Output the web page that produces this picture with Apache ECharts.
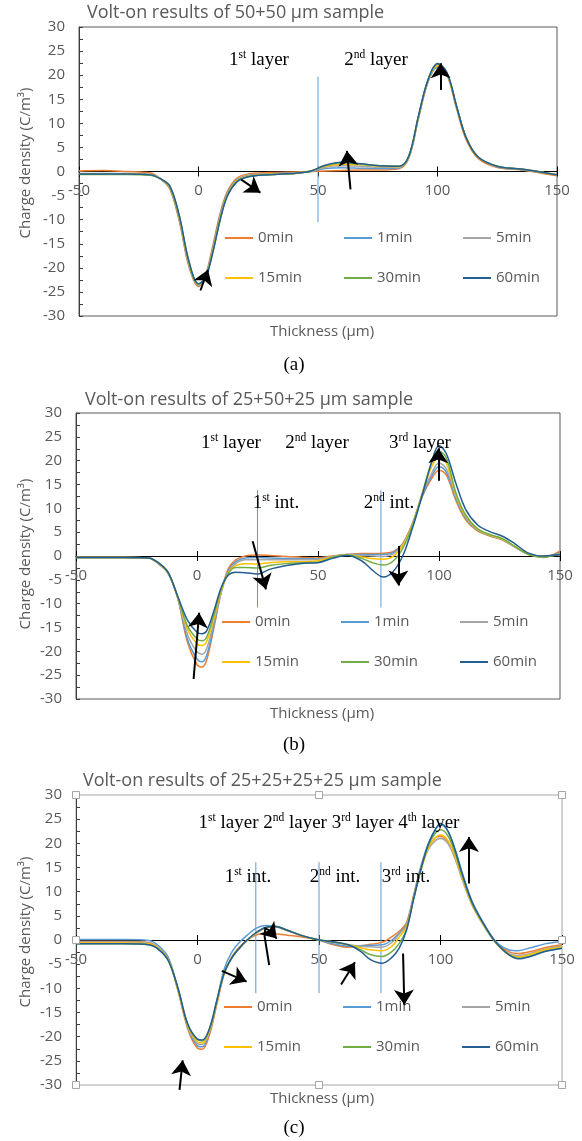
<!DOCTYPE html>
<html>
<head>
<meta charset="utf-8">
<script src="https://cdn.jsdelivr.net/npm/echarts@6/dist/echarts.min.js"></script>
<style>
  html, body { margin: 0; padding: 0; background: #ffffff; }
  #chart { width: 582px; height: 1141px; }
</style>
</head>
<body>
<div id="chart"></div>
<script>
// ---- series definitions ----
const seriesNames = ['0min', '1min', '5min', '15min', '30min', '60min'];
const seriesColors = ['#ED7D31', '#5B9BD5', '#A5A5A5', '#FFC000', '#70AD47', '#255E91'];
const xTickValues = [-50, 0, 50, 100, 150];

// ---- (a) 50+50 µm sample ----
const thicknessA = [-50,-40,-30,-20,-16,-12,-8,-4,0,3,6,9,12,16,20,25,32,40,47,53,60,68,76,84,88,92,96,100,104,108,112,117,125,135,150];
const a0min  = [0.1,0.2,0.0,-0.3, -1.5,-3.6,-10.4,-19.8, -23.9,-21.4,-15.4,-8.8, -4.2,-1.4,-0.6,-0.3, -0.2,-0.1,0.0,0.1, 0.2,0.3,0.3,0.6, 2.8,11.0,18.6,21.8, 20.0,13.0,6.6,2.7, 0.8,0.3,-0.9];
const a1min  = [-0.4,-0.4,-0.4,-0.6, -1.5,-3.4,-10.0,-19.4, -23.7,-21.7,-15.9,-9.3, -4.6,-1.7,-0.9,-0.6, -0.4,-0.3,0.0,0.6, 0.8,0.7,0.6,0.8, 2.9,11.0,18.6,21.6, 20.2,13.4,7.0,3.0, 1.0,0.4,-0.6];
const a5min  = [-0.5,-0.5,-0.5,-0.7, -1.5,-3.3,-9.8,-19.2, -23.6,-21.8,-16.2,-9.6, -4.8,-1.9,-1.0,-0.7, -0.5,-0.4,0.0,0.9, 1.2,1.1,0.9,0.9, 3.0,11.2,18.8,21.8, 20.3,13.4,7.0,3.0, 1.0,0.4,-0.6];
const a15min = [-0.5,-0.5,-0.5,-0.7, -1.5,-3.2,-9.6,-19.0, -23.5,-21.9,-16.5,-9.9, -5.0,-2.0,-1.1,-0.7, -0.5,-0.4,0.1,1.1, 1.5,1.4,1.1,1.0, 3.1,11.3,18.9,22.0, 20.4,13.5,7.1,3.0, 1.1,0.5,-0.7];
const a30min = [-0.6,-0.6,-0.6,-0.8, -1.5,-3.1,-9.4,-18.8, -23.4,-22.0,-16.7,-10.1, -5.1,-2.1,-1.2,-0.8, -0.6,-0.4,0.1,1.2, 1.8,1.5,1.2,1.1, 3.2,11.4,19.0,22.3, 20.5,13.5,7.0,3.0, 1.1,0.5,-0.7];
const a60min = [-0.5,-0.5,-0.5,-0.7, -1.5,-3.0,-9.2,-18.6, -23.3,-22.0,-16.8,-10.2, -5.2,-2.2,-1.2,-0.8, -0.6,-0.4,0.1,1.3, 1.9,1.6,1.2,1.1, 3.2,11.5,19.0,22.4, 20.5,13.5,7.0,3.0, 1.1,0.5,-0.7];
const interfacesA = [50];
const interfaceSpanA = [-10.5, 19.7];
const arrowsA = [
  [[17.9, -1.7], [25.9, -4.4]],
  [[63.6, -3.7], [62.1, 4.3]],
  [[101.3, 16.9], [101.3, 22.5]],
  [[0.8, -24.7], [4.0, -20.4]]
];

// ---- (b) 25+50+25 µm sample ----
const thicknessB = [-50,-40,-30,-20,-16,-12,-8,-4,0,2,4,7,10,13,16,20,25,30,37,44,50,56,62,68,73,77,81,85,89,93,97,100,103,107,111,116,121,126,131,137,143,150];
const b0min  = [-0.3,-0.3,-0.3,-0.4, -1.6,-3.6,-8.8,-18.0, -22.8,-23.3,-21.8,-15.0, -7.5,-2.6,-0.8,0.0, 0.2,0.1,-0.1,-0.3, -0.4,0.0,0.3,0.5, 0.5,0.6,0.9,2.6, 6.8,12.4,16.3,18.0, 17.0,11.6,7.6,5.2, 4.2,3.4,2.0,0.3, -0.3,1.0];
const b1min  = [-0.3,-0.3,-0.3,-0.4, -1.6,-3.6,-8.7,-17.4, -21.6,-22.2,-20.8,-14.5, -7.6,-3.0,-1.2,-0.4, -0.3,-0.4,-0.5,-0.6, -0.6,-0.1,0.3,0.3, 0.3,0.3,0.7,2.5, 6.7,12.5,16.8,18.8, 17.6,12.0,7.9,5.4, 4.3,3.5,2.0,0.4, -0.2,0.7];
const b5min  = [-0.3,-0.3,-0.3,-0.4, -1.5,-3.5,-8.6,-16.4, -20.1,-20.6,-19.4,-13.8, -7.6,-3.3,-1.6,-0.8, -0.8,-0.8,-0.8,-0.8, -0.7,-0.1,0.3,0.1, 0.0,-0.1,0.4,2.4, 6.6,12.8,17.4,19.5, 18.3,12.4,8.1,5.5, 4.3,3.5,2.0,0.4, -0.2,0.5];
const b15min = [-0.3,-0.3,-0.3,-0.4, -1.5,-3.5,-8.6,-15.3, -18.4,-18.8,-17.9,-13.0, -7.3,-3.5,-2.0,-1.6, -1.7,-1.4,-1.2,-1.2, -1.0,-0.2,0.2,-0.2, -0.6,-0.7,-0.1,2.2, 6.5,13.0,18.8,20.9, 19.5,12.8,8.4,5.6, 4.4,3.6,2.1,0.4, -0.1,0.4];
const b30min = [-0.3,-0.3,-0.3,-0.4, -1.4,-3.4,-8.5,-14.6, -17.4,-17.8,-17.0,-12.3, -7.0,-3.6,-2.4,-2.4, -2.5,-2.0,-1.6,-1.4, -1.3,-0.3,0.2,-0.5, -1.5,-1.9,-1.1,1.6, 6.3,13.0,19.6,22.0, 20.6,13.2,8.6,5.7, 4.5,3.7,2.1,0.3, -0.2,0.3];
const b60min = [-0.3,-0.3,-0.3,-0.4, -1.4,-3.4,-8.4,-13.4, -16.0,-16.3,-15.7,-11.5, -6.6,-4.0,-3.4,-3.5, -3.8,-2.8,-2.0,-1.5, -1.4,-0.5,0.1,-1.0, -3.2,-4.4,-3.3,0.0, 5.8,12.6,19.8,23.2, 21.5,15.2,9.8,6.5, 5.1,4.2,2.7,0.6, 0.0,0.3];
const interfacesB = [25, 76];
const interfaceSpanB = [-10.8, 13.8];
const arrowsB = [
  [[23.0, 3.1], [28.5, -7.0]],
  [[83.2, 2.1], [83.2, -6.2]],
  [[99.7, 15.8], [99.7, 22.6]],
  [[-1.4, -25.8], [0.9, -11.9]]
];

// ---- (c) 25+25+25+25 µm sample ----
const thicknessC = [-50,-40,-30,-20,-16,-12,-8,-4,0,2,5,8,11,14,17,20,24,28,32,37,43,50,56,62,67,71,76,80,83,86,89,92,95,98,100,103,106,109,113,117,121,124,128,132,137,143,150];
const c0min  = [-0.3,-0.3,-0.3,-0.5, -1.6,-4.0,-10.6,-18.4, -22.4,-22.6,-19.5,-13.2, -7.0,-3.6,-1.6,-0.2, 1.0,1.4,1.3,1.0, 0.6,0.0,-1.0,-1.5, -1.2,-0.9,-0.5,0.7, 1.8,3.6,9.4,15.2, 19.2,21.2,21.4,20.3, 17.0,12.6,7.4,3.8, 0.8,-1.0,-2.4,-2.8, -2.4,-1.6,-1.0];
const c1min  = [0.1,0.1,0.1,-0.1, -1.2,-3.6,-10.3,-18.0, -21.9,-22.1,-19.0,-12.5, -6.0,-2.6,-0.6,0.8, 2.4,3.0,2.9,2.0, 0.9,0.0,-0.8,-1.3, -1.2,-1.1,-1.0,0.0, 1.4,3.2,9.2,15.3, 20.0,23.0,23.8,22.6, 18.8,13.8,8.0,4.1, 0.8,-0.9,-2.0,-2.2, -1.6,-0.8,-0.3];
const c5min  = [-0.4,-0.4,-0.4,-0.6, -1.6,-4.0,-10.4,-17.9, -21.4,-21.6,-18.9,-12.8, -7.0,-3.8,-1.9,-0.3, 1.3,2.5,2.7,1.9, 0.9,0.0,-0.5,-1.0, -1.3,-1.4,-1.5,-0.5, 1.2,3.0,8.8,14.6, 18.8,20.6,21.0,20.0, 16.8,12.4,7.2,3.6, 0.5,-1.3,-2.8,-3.2, -2.8,-1.9,-1.2];
const c15min = [-0.6,-0.6,-0.6,-0.8, -1.8,-4.1,-10.2,-17.7, -21.1,-21.3,-18.6,-12.6, -6.9,-3.8,-1.8,-0.3, 1.4,2.6,2.8,2.0, 0.9,0.0,-0.4,-1.0, -1.6,-2.0,-2.2,-1.3, 0.6,2.7,8.7,14.6, 19.1,21.2,21.7,20.6, 17.3,12.8,7.4,3.7, 0.6,-1.3,-3.0,-3.5, -3.0,-2.0,-1.5];
const c30min = [-0.8,-0.8,-0.8,-1.0, -1.9,-4.2,-10.1,-17.5, -20.7,-20.9,-18.3,-12.5, -6.8,-3.8,-1.8,-0.2, 1.5,2.6,2.8,2.0, 0.9,0.0,-0.4,-1.0, -2.0,-3.0,-3.4,-2.4, -0.7,2.2,8.6,14.7, 19.6,22.2,22.8,21.6, 18.0,13.2,7.6,3.9, 0.6,-1.2,-3.0,-3.8, -3.3,-2.3,-1.7];
const c60min = [-0.8,-0.8,-0.8,-1.0, -2.0,-4.3,-10.0,-17.4, -20.5,-20.7,-18.2,-12.4, -6.8,-3.8,-1.8,-0.2, 1.5,2.6,2.8,2.0, 0.9,0.0,-0.4,-1.0, -2.3,-4.0,-4.8,-3.6, -1.7,2.0,8.6,14.8, 19.8,23.0,24.1,22.6, 18.6,13.6,7.8,4.0, 0.7,-1.2,-3.0,-3.9, -3.4,-2.4,-1.7];
const interfacesC = [24, 50, 75.5];
const interfaceSpanC = [-11, 16.1];
const arrowsC = [
  [[10.0, -6.4], [20.2, -8.6]],
  [[29.6, 2.0], [32.6, 0.3]],
  [[59.1, -9.2], [64.8, -4.6]],
  [[84.6, -2.8], [85.1, -13.4]],
  [[111.7, 11.7], [111.7, 21.3]],
  [[-7.4, -31.0], [-6.1, -24.9]]
];
const hooksC = [[[29.5, -5.2], [27.6, 0.8], [27.9, 2.4], [29.6, 2.0]]];

// ---- styling ----
const SANS = '"Open Sans", "Noto Sans", sans-serif';
const SERIF = '"Liberation Serif", "DejaVu Serif", serif';
const GREY = '#595959';

const panels = [
  { title: 'Volt-on results of 50+50 µm sample', titlePos: [87, 4],
    grid: { left: 79, top: 27, width: 478, height: 289 }, border: '#595959',
    x: thicknessA, ys: [a0min, a1min, a5min, a15min, a30min, a60min],
    interfaces: interfacesA, span: interfaceSpanA, arrows: arrowsA, hooks: [],
    legendPos: [225, 228], yNameY: 163, xNameY: 332, caption: '(a)', captionY: 365 },
  { title: 'Volt-on results of 25+50+25 µm sample', titlePos: [85, 391],
    grid: { left: 76, top: 413, width: 484, height: 286 }, border: '#595959',
    x: thicknessB, ys: [b0min, b1min, b5min, b15min, b30min, b60min],
    interfaces: interfacesB, span: interfaceSpanB, arrows: arrowsB, hooks: [],
    legendPos: [222, 612], yNameY: 554, xNameY: 714, caption: '(b)', captionY: 745 },
  { title: 'Volt-on results of 25+25+25+25 µm sample', titlePos: [83, 772],
    grid: { left: 76, top: 795, width: 486, height: 290 }, border: '#A6A6A6',
    x: thicknessC, ys: [c0min, c1min, c5min, c15min, c30min, c60min],
    interfaces: interfacesC, span: interfaceSpanC, arrows: arrowsC, hooks: hooksC,
    legendPos: [224, 997], yNameY: 932, xNameY: 1099, caption: '(c)', captionY: 1128 }
];

function sup(base, s, rest) {
  return '{n|' + base + '}{s|' + s + '}{n|' + rest + '}';
}
const richStyle = {
  n: { fontSize: 19, fontFamily: SERIF, fill: '#000', lineHeight: 22 },
  s: { fontSize: 11.5, fontFamily: SERIF, fill: '#000', lineHeight: 10, verticalAlign: 'top' }
};
const annotations = [
  [sup('1', 'st', ' layer'), 259, 60], [sup('2', 'nd', ' layer'), 376, 60],
  [sup('1', 'st', ' layer'), 231, 443], [sup('2', 'nd', ' layer'), 317, 443], [sup('3', 'rd', ' layer'), 420, 443],
  [sup('1', 'st', ' int.'), 276, 503], [sup('2', 'nd', ' int.'), 389, 503],
  [sup('1', 'st', ' layer ') + sup('2', 'nd', ' layer ') + sup('3', 'rd', ' layer ') + sup('4', 'th', ' layer'), 329, 823],
  [sup('1', 'st', ' int.'), 248, 877], [sup('2', 'nd', ' int.'), 335, 877], [sup('3', 'rd', ' int.'), 406, 877]
];

const option = {
  animation: false,
  backgroundColor: '#ffffff',
  title: [], grid: [], xAxis: [], yAxis: [], legend: [], series: [], graphic: []
};

panels.forEach((p, i) => {
  // the y range is symmetric, so half the plot height brings an axis to the zero line
  const toZero = -p.grid.height / 2;

  option.title.push({
    text: p.title, left: p.titlePos[0], top: p.titlePos[1], padding: 0,
    textStyle: { color: GREY, fontSize: 18, fontWeight: 'normal', fontFamily: SANS }
  });
  option.grid.push(Object.assign({
    show: true, borderColor: p.border, borderWidth: 1, backgroundColor: 'transparent',
    containLabel: false, outerBoundsMode: 'none'
  }, p.grid));

  // thickness axis drawn along the zero line, ticks pointing down, labels below
  option.xAxis.push({
    type: 'value', gridIndex: i, min: -50, max: 150, interval: 50, position: 'bottom', offset: toZero,
    axisLine: { show: true, onZero: false, lineStyle: { color: '#000', width: 1 } },
    axisTick: { show: true, length: 5, lineStyle: { color: '#000' } },
    axisLabel: { color: GREY, fontSize: 15, fontFamily: SANS, margin: 12,
      formatter: v => (xTickValues.indexOf(v) >= 0 ? String(v) : '') },
    splitLine: { show: false }
  });
  // twin axis that only supplies the upward half of the crossing ticks
  option.xAxis.push({
    type: 'value', gridIndex: i, min: -50, max: 150, interval: 50, position: 'top', offset: toZero,
    axisLine: { show: false, onZero: false },
    axisTick: { show: true, length: 5, lineStyle: { color: '#000' } },
    axisLabel: { show: false }, splitLine: { show: false }
  });
  option.yAxis.push({
    type: 'value', gridIndex: i, min: -30, max: 30, interval: 5, position: 'left',
    axisLine: { show: true, onZero: false, lineStyle: { color: '#404040' } },
    axisTick: { show: true, inside: true, length: 4, lineStyle: { color: '#404040' } },
    minorTick: { show: true, splitNumber: 2, length: 4, lineStyle: { color: '#404040' } },
    axisLabel: { color: GREY, fontSize: 15, fontFamily: SANS, margin: 14 },
    splitLine: { show: false }
  });

  option.legend.push({
    data: seriesNames, left: p.legendPos[0], top: p.legendPos[1], width: 360,
    orient: 'horizontal', padding: 0, itemGap: 20, itemWidth: 28, itemHeight: 2, icon: 'rect',
    textStyle: { color: GREY, fontSize: 15, fontFamily: SANS, width: 66, lineHeight: 20 },
    selectedMode: false
  });

  // interface markers
  p.interfaces.forEach(xv => {
    option.series.push({
      name: 'interface', type: 'line', xAxisIndex: 2 * i, yAxisIndex: i,
      data: [[xv, p.span[0]], [xv, p.span[1]]], symbol: 'none', silent: true,
      color: '#5B9BD5', lineStyle: { color: '#5B9BD5', width: 1 }, z: 1
    });
  });

  // charge density profiles
  p.ys.forEach((ys, k) => {
    option.series.push({
      name: seriesNames[k], type: 'line', xAxisIndex: 2 * i, yAxisIndex: i,
      data: p.x.map((xv, j) => [xv, ys[j]]),
      smooth: 0.35, symbol: 'none', showSymbol: false,
      color: seriesColors[k], lineStyle: { color: seriesColors[k], width: 1.5 },
      emphasis: { disabled: true }, z: 2
    });
  });

  // trend arrows
  option.series.push({
    name: 'trend', type: 'lines', coordinateSystem: 'cartesian2d', xAxisIndex: 2 * i, yAxisIndex: i,
    data: p.arrows.map(c => ({ coords: c })), symbol: ['none', 'arrow'], symbolSize: 15,
    lineStyle: { color: '#000', width: 2, opacity: 1, curveness: 0 }, clip: false, silent: true, z: 5
  });
  if (p.hooks.length) {
    option.series.push({
      name: 'trend hook', type: 'lines', coordinateSystem: 'cartesian2d', xAxisIndex: 2 * i, yAxisIndex: i,
      polyline: true, data: p.hooks.map(c => ({ coords: c })), symbol: 'none',
      lineStyle: { color: '#000', width: 2, opacity: 1 }, clip: false, silent: true, z: 5
    });
  }

  option.graphic.push({
    type: 'text', x: 26, y: p.yNameY, rotation: Math.PI / 2, silent: true,
    style: { text: 'Charge density (C/m³)', fill: GREY, fontSize: 15, fontFamily: SANS, align: 'center', verticalAlign: 'middle' }
  });
  option.graphic.push({
    type: 'text', x: 322, y: p.xNameY, silent: true,
    style: { text: 'Thickness (µm)', fill: GREY, fontSize: 15, fontFamily: SANS, align: 'center', verticalAlign: 'middle' }
  });
  option.graphic.push({
    type: 'text', x: 294, y: p.captionY, silent: true,
    style: { text: p.caption, fill: '#000', fontSize: 19, fontFamily: SERIF, align: 'center', verticalAlign: 'middle' }
  });
});

annotations.forEach(a => {
  option.graphic.push({
    type: 'text', x: a[1], y: a[2], silent: true, z: 50,
    style: { text: a[0], rich: richStyle, align: 'center', verticalAlign: 'middle' }
  });
});

// selection handles around the last plot area
const gC = panels[2].grid;
const hx = [gC.left, gC.left + gC.width / 2, gC.left + gC.width];
const hy = [gC.top, gC.top + gC.height / 2, gC.top + gC.height];
hx.forEach((xp, a) => hy.forEach((yp, b) => {
  if (a === 1 && b === 1) return;
  option.graphic.push({
    type: 'rect', x: xp, y: yp, silent: true, z: 60,
    shape: { x: -3.5, y: -3.5, width: 7, height: 7 },
    style: { fill: '#ffffff', stroke: '#A6A6A6', lineWidth: 1 }
  });
}));

const chart = echarts.init(document.getElementById('chart'), null, { renderer: 'canvas', width: 582, height: 1141 });
chart.setOption(option);
</script>
</body>
</html>
